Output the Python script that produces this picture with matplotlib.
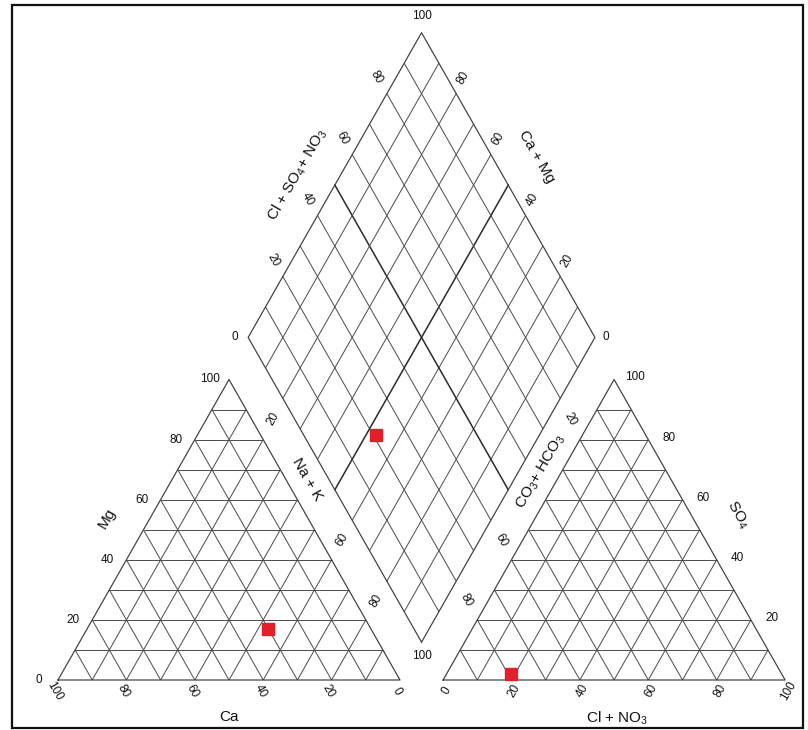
import numpy as np
import matplotlib.pyplot as plt
from matplotlib.patches import Rectangle

plt.rcParams['font.family'] = ['Liberation Sans', 'DejaVu Sans']
plt.rcParams['mathtext.default'] = 'regular'

# sample composition, % meq/L
ca, mg, na_k = 30, 17, 53
hco3, so4, cl_no3 = 79, 2, 19

ticks = [0, 20, 40, 60, 80, 100]
so4_ticks = [20, 40, 60, 80, 100]
edge_ticks = [20, 40, 60, 80]
strip_ticks = [20, 60, 80]

H = np.sqrt(3) / 2
GAP = 0.126         # spacing between the two triangles
DSIZE = 1.014       # diamond side relative to the triangles
SX, SY = 342, 347   # pixels per unit
X0, Y0 = 58, 680    # pixel position of the cation triangle's left corner
W, HT = 808, 730


def cation_xy(c, m, n):
    t = c + m + n
    return (n + m / 2) / t, m / t * H


def anion_xy(a, s, c):
    t = a + s + c
    return 1 + GAP + (c + s / 2) / t, s / t * H


BOTTOM = np.array([1 + GAP / 2, GAP * H])
E1 = DSIZE * np.array([-0.5, H])
E2 = DSIZE * np.array([0.5, H])


def diamond_xy(a, b):
    # a = Ca+Mg fraction, b = Cl+SO4+NO3 fraction
    p = BOTTOM + a * E1 + b * E2
    return p[0], p[1]


fig = plt.figure(figsize=(W / 100, HT / 100), dpi=100)
ax = fig.add_axes([0, 0, 1, 1])
ax.set_xlim(-X0 / SX, (W - X0) / SX)
ax.set_ylim((Y0 - HT) / SY, Y0 / SY)
ax.axis('off')

grid = dict(color='#4a4a4a', lw=0.7, solid_capstyle='butt')
edge = dict(color='#3c3c3c', lw=0.85)


def seg(p, q, **kw):
    ax.plot([p[0], q[0]], [p[1], q[1]], **kw)


def txt(p, s, dx=0, dy=0, rot=0, size=8.5):
    # dx, dy in pixels (dy up)
    ax.text(p[0] + dx / SX, p[1] + dy / SY, s, rotation=rot, size=size,
            ha='center', va='center', rotation_mode='anchor', color='#111111')


fr = np.arange(10, 100, 10)

# cation triangle
for f in fr:
    seg(cation_xy(100 - f, f, 0), cation_xy(0, f, 100 - f), **grid)
    seg(cation_xy(f, 100 - f, 0), cation_xy(f, 0, 100 - f), **grid)
    seg(cation_xy(0, 100 - f, f), cation_xy(100 - f, 0, f), **grid)
tri = [cation_xy(100, 0, 0), cation_xy(0, 0, 100), cation_xy(0, 100, 0), cation_xy(100, 0, 0)]
ax.plot([p[0] for p in tri], [p[1] for p in tri], **edge)

# anion triangle
for f in fr:
    seg(anion_xy(100 - f, f, 0), anion_xy(0, f, 100 - f), **grid)
    seg(anion_xy(f, 100 - f, 0), anion_xy(f, 0, 100 - f), **grid)
    seg(anion_xy(0, 100 - f, f), anion_xy(100 - f, 0, f), **grid)
tri = [anion_xy(100, 0, 0), anion_xy(0, 0, 100), anion_xy(0, 100, 0), anion_xy(100, 0, 0)]
ax.plot([p[0] for p in tri], [p[1] for p in tri], **edge)

# diamond, with the 50 % lines drawn heavier
for f in fr / 100:
    kw = dict(color='#2b2b2b', lw=1.1) if abs(f - 0.5) < 1e-9 else grid
    seg(diamond_xy(f, 0), diamond_xy(f, 1), **kw)
    seg(diamond_xy(0, f), diamond_xy(1, f), **kw)
rh = [diamond_xy(0, 0), diamond_xy(1, 0), diamond_xy(1, 1), diamond_xy(0, 1), diamond_xy(0, 0)]
ax.plot([p[0] for p in rh], [p[1] for p in rh], **edge)

# cation triangle labels
for v in ticks:
    txt(cation_xy(100 - v, v, 0), str(v), dx=-19)
    txt(cation_xy(v, 0, 100 - v), str(v), dx=-3, dy=-11, rot=-60)
txt(cation_xy(50, 50, 0), 'Mg', dx=-36, dy=11, rot=60, size=11)
txt(cation_xy(50, 0, 50), 'Ca', dy=-37, size=11)

# anion triangle labels
for v in so4_ticks:
    txt(anion_xy(0, v, 100 - v), str(v), dx=21, dy=2)
for v in ticks:
    txt(anion_xy(100 - v, 0, v), str(v), dx=3, dy=-11, rot=60)
txt(anion_xy(0, 50, 50), 'SO$_4$', dx=38, dy=15, rot=-60, size=11)
txt(anion_xy(50, 0, 50), 'Cl + NO$_3$', dx=3, dy=-38, size=11)

# diamond labels
txt(diamond_xy(1, 1), '100', dy=17)
txt(diamond_xy(0, 0), '100', dy=-14)
txt(diamond_xy(1, 0), '0', dx=-13)
txt(diamond_xy(0, 1), '0', dx=11)
for v in edge_ticks:
    txt(diamond_xy(1, v / 100), str(v), dx=-10, dy=16, rot=-60)
    txt(diamond_xy(v / 100, 1), str(v), dx=7, dy=16, rot=60)
txt(diamond_xy(1, 0.5), 'Cl + SO$_4$+ NO$_3$', dx=-37, dy=10, rot=60, size=11)
txt(diamond_xy(0.5, 1), 'Ca + Mg', dx=28, dy=28, rot=-60, size=11)


def mid(p, q):
    return (p[0] + q[0]) / 2, (p[1] + q[1]) / 2


# labels in the strips between the triangles and the diamond
for v in strip_ticks:
    txt(mid(cation_xy(0, 100 - v, v), diamond_xy(1 - v / 100, 0)), str(v), rot=60)
    txt(mid(anion_xy(v, 100 - v, 0), diamond_xy(0, 1 - v / 100)), str(v), rot=-60)
txt(mid(cation_xy(0, 60, 40), diamond_xy(0.6, 0)), 'Na + K', rot=-60, size=11)
txt(mid(anion_xy(40, 60, 0), diamond_xy(0, 0.6)), 'CO$_3$+ HCO$_3$', dx=5, dy=8, rot=60, size=11)

# sample points
mk = dict(marker='s', ms=8.5, color='#e3202a', ls='none', zorder=5)
ax.plot(*cation_xy(ca, mg, na_k), **mk)
ax.plot(*anion_xy(hco3, so4, cl_no3), **mk)
ax.plot(*diamond_xy((ca + mg) / 100, (so4 + cl_no3) / 100), **mk)

fig.patches.append(Rectangle((12 / W, 2 / HT), 791 / W, 723 / HT, transform=fig.transFigure,
                             fill=False, ec='#111111', lw=1.6))

fig.savefig('out.png', dpi=100, facecolor='white')
